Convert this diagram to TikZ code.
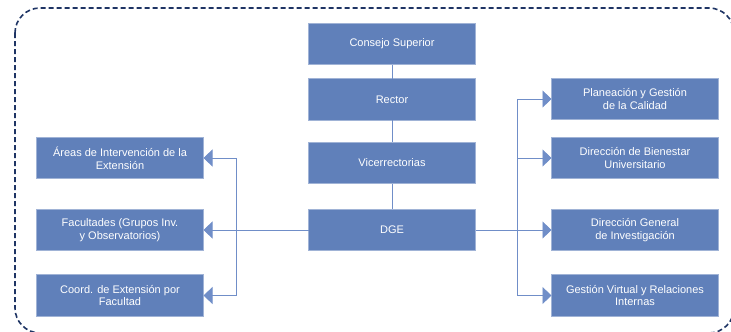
\documentclass[tikz,border=0pt]{standalone}
\usepackage{fontspec}
\setmainfont{Liberation Sans}
\usetikzlibrary{arrows.meta,positioning}
\definecolor{boxblue}{RGB}{96,128,186}
\definecolor{linkblue}{RGB}{112,142,200}
\definecolor{frameblue}{RGB}{30,52,100}
\begin{document}
\begin{tikzpicture}[x=1pt, y=-1pt, link/.style={draw=linkblue,line width=0.8pt}, arrow/.style={link,-{Triangle[length=9pt,width=17pt]}}, box/.style={rectangle,draw=boxblue!60!white,line width=0.6pt,fill=boxblue,text=white,minimum width=167pt,minimum height=41.5pt,inner sep=2pt,outer sep=0pt,align=center,font=\fontsize{11}{13}\selectfont}]
\useasboundingbox (0,0) rectangle (731,332);
\clip (0,0) rectangle (731,332);
\draw[frameblue,line width=1.6pt,dash pattern=on 5pt off 3pt,rounded corners=25pt] (15,8) rectangle (734,333);
\node[box] (consejo) at (392,44) {Consejo Superior};
\node[box,below=14pt of consejo] (rector) {Rector};
\node[box,below=22pt of rector] (vice) {Vicerrectorias};
\node[box,below=25.5pt of vice] (dge) {DGE};
\node[box,left=105pt of dge] (fac) {Facultades (Grupos Inv.\\y Observatorios)};
\node[box,above=30.5pt of fac] (areas) {Áreas de Intervención de la\\Extensión};
\node[box,below=24pt of fac] (coord) {Coord. de Extensión por\\Facultad};
\node[box,right=76pt of dge] (dgi) {Dirección General\\de Investigación};
\node[box,above=30.5pt of dgi] (bien) {Dirección de Bienestar\\Universitario};
\node[box,above=17.5pt of bien] (plan) {Planeación y Gestión\\de la Calidad};
\node[box,below=24pt of dgi] (gest) {Gestión Virtual y Relaciones\\Internas};
\coordinate (rbus) at (517,0);
\coordinate (lbus) at (236,0);
\draw[link] (consejo) -- (rector);
\draw[link] (rector) -- (vice);
\draw[link] (vice) -- (dge);
\draw[arrow] (dge) -- (dgi);
\draw[arrow] (dge) -- (fac);
\draw[link] (plan.west -| rbus) -- (gest.west -| rbus);
\foreach \n in {plan,bien,gest}
  \draw[arrow] (\n.west -| rbus) -- (\n.west);
\draw[link] (areas.east -| lbus) -- (coord.east -| lbus);
\foreach \n in {areas,coord}
  \draw[arrow] (\n.east -| lbus) -- (\n.east);
\end{tikzpicture}
\end{document}
